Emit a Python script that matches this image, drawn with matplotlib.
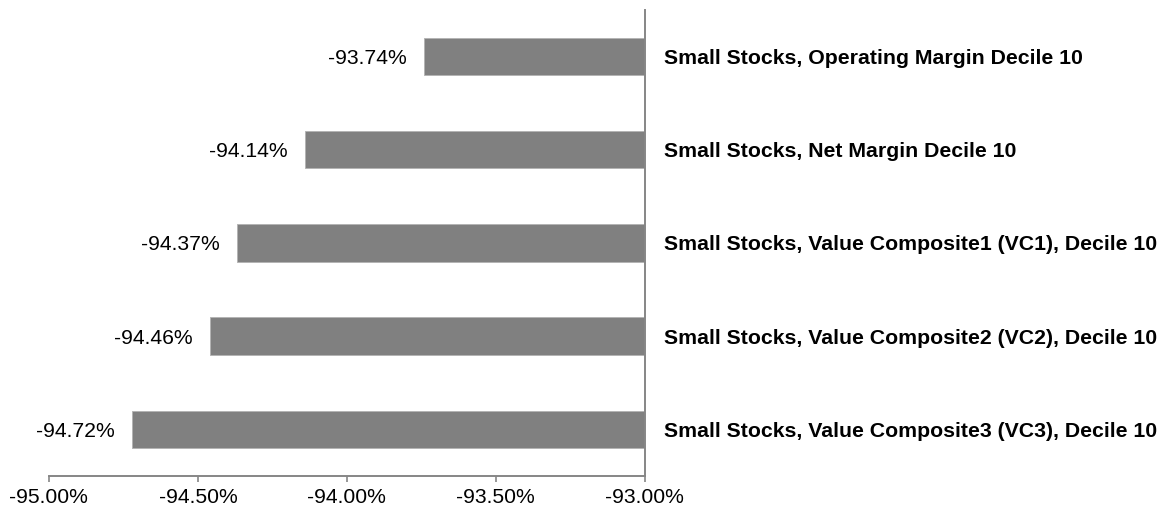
import numpy as np
import matplotlib
matplotlib.use("Agg")
import matplotlib.pyplot as plt
from matplotlib.ticker import FuncFormatter

plt.rcParams["font.family"] = ["Liberation Sans", "DejaVu Sans"]

categories = [
    "Small Stocks, Operating Margin Decile 10",
    "Small Stocks, Net Margin Decile 10",
    "Small Stocks, Value Composite1 (VC1), Decile 10",
    "Small Stocks, Value Composite2 (VC2), Decile 10",
    "Small Stocks, Value Composite3 (VC3), Decile 10",
]
values = [-93.74, -94.14, -94.37, -94.46, -94.72]
x_ticks = [-95.0, -94.5, -94.0, -93.5, -93.0]

BAR = "#808080"
AXIS = "#868686"

fig = plt.figure(figsize=(11.65, 5.12), dpi=100)
ax = fig.add_axes([0.0420, 0.0705, 0.5115, 0.9100])

y = np.arange(len(categories))
base = -93.0
ax.barh(y, np.array(values) - base, left=base, height=0.4,
        color=BAR, edgecolor="#b4b4b4", linewidth=0.7)

for yi, v in zip(y, values):
    ax.annotate(f"{v:.2f}%", (v, yi), xytext=(-12.5, 0), textcoords="offset points",
                ha="right", va="center_baseline", fontsize=15.2, color="black")

ax.set_xlim(-95.0, -93.0)
ax.set_ylim(len(categories) - 0.5, -0.5)
ax.set_xticks(x_ticks)
ax.xaxis.set_major_formatter(FuncFormatter(lambda v, p: f"{v:.2f}%"))
ax.tick_params(axis="x", direction="out", length=4.5, width=1.2, color=AXIS,
               labelsize=15.2, pad=4)

ax.yaxis.tick_right()
ax.set_yticks(y)
ax.set_yticklabels(categories, fontsize=15.3, fontweight="bold")
ax.tick_params(axis="y", length=0, pad=14)

for s in ["top", "left"]:
    ax.spines[s].set_visible(False)
for s in ["right", "bottom"]:
    ax.spines[s].set_color(AXIS)
    ax.spines[s].set_linewidth(1.4)

fig.savefig("out.png", dpi=100)
